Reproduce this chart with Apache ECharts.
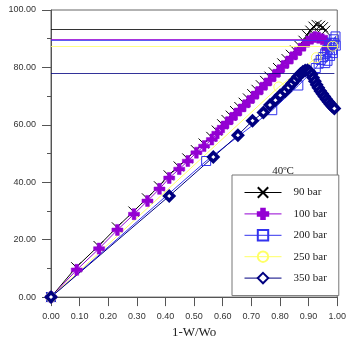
<!DOCTYPE html>
<html>
<head>
<meta charset="utf-8">
<script src="https://cdn.jsdelivr.net/npm/echarts@6/dist/echarts.min.js"></script>
<style>
  html, body { margin: 0; padding: 0; background: #fff; }
  #chart { width: 349px; height: 344px; }
</style>
</head>
<body>
<div id="chart"></div>
<script>
// series: [1-W/Wo, yield %]
const names = ['90 bar', '100 bar', '200 bar', '250 bar', '350 bar'];

const bar90 = [
  [0, 0], [0.088, 10.4], [0.166, 17.8], [0.230, 24.3], [0.288, 29.8], [0.335, 34.4],
  [0.377, 38.6], [0.411, 42.4], [0.446, 45.5], [0.476, 48.3], [0.506, 51.2], [0.533, 53.5],
  [0.560, 55.8], [0.579, 58.0], [0.598, 60.2], [0.613, 61.7], [0.628, 63.2], [0.643, 64.8],
  [0.658, 66.2], [0.673, 67.7], [0.688, 69.2], [0.703, 70.7], [0.718, 72.2], [0.733, 73.8],
  [0.748, 75.3], [0.763, 76.8], [0.778, 78.3], [0.793, 79.8], [0.808, 81.4], [0.823, 82.9],
  [0.838, 84.4], [0.853, 85.9], [0.868, 87.5], [0.882, 89.3], [0.895, 91.2], [0.906, 92.8],
  [0.917, 94.2], [0.928, 94.8], [0.940, 94.5], [0.950, 94.0], [0.958, 92.8]
];
const bar100 = [
  [0, 0], [0.090, 9.5], [0.168, 16.9], [0.232, 23.4], [0.290, 28.9], [0.337, 33.5],
  [0.379, 37.7], [0.413, 41.5], [0.448, 44.6], [0.478, 47.4], [0.508, 50.3], [0.535, 52.6],
  [0.562, 54.9], [0.581, 57.1], [0.600, 59.2], [0.615, 60.7], [0.630, 62.2], [0.645, 63.7],
  [0.660, 65.2], [0.675, 66.6], [0.690, 68.1], [0.705, 69.6], [0.720, 71.1], [0.735, 72.7],
  [0.750, 74.2], [0.765, 75.7], [0.780, 77.2], [0.795, 78.7], [0.810, 80.3], [0.825, 81.8],
  [0.840, 83.3], [0.855, 84.8], [0.870, 86.3], [0.884, 87.8], [0.897, 89.0], [0.910, 90.0],
  [0.922, 90.6], [0.935, 90.3], [0.948, 89.8], [0.960, 89.3], [0.965, 86.5]
];
const bar200 = [
  [0, 0], [0.542, 47.4], [0.773, 65.1], [0.864, 73.7], [0.925, 79.8], [0.935, 81.3],
  [0.942, 82.6], [0.950, 83.6], [0.958, 84.9], [0.965, 86.1], [0.972, 87.4], [0.980, 88.6],
  [0.988, 89.8], [0.994, 90.8], [0.990, 88.4], [0.982, 86.0], [0.975, 84.0], [0.966, 82.3],
  [0.958, 81.5], [0.985, 85.0], [0.995, 87.6]
];
const bar250 = [
  [0, 0], [0.796, 73.2], [0.927, 83.4], [0.984, 87.4]
];
const bar350 = [
  [0, 0], [0.413, 35.2], [0.567, 48.8], [0.653, 56.4], [0.704, 61.4], [0.742, 64.3],
  [0.765, 66.9], [0.784, 68.6], [0.801, 70.3], [0.818, 71.7], [0.830, 73.0], [0.842, 74.4],
  [0.853, 75.6], [0.863, 76.8], [0.872, 77.8], [0.880, 78.5], [0.888, 78.9], [0.896, 79.0],
  [0.903, 78.6], [0.910, 77.6], [0.916, 76.4], [0.922, 75.2], [0.928, 74.0], [0.934, 72.9],
  [0.941, 71.8], [0.948, 70.8], [0.955, 69.9], [0.962, 68.9], [0.969, 68.0], [0.976, 67.2],
  [0.983, 66.4], [0.990, 65.7]
];

// plateau lines drawn across from the y axis
const plateau = [93.4, 89.7, 89.3, 87.2, 77.8];
const plateauEnd = [0.96, 0.965, 1.0, 1.0, 0.99];

const colors = ['#000000', '#9400d3', '#3333ee', '#ffff66', '#000080'];
const symbols = [
  'path://M0,0L10,10M10,0L0,10',
  'path://M3.3,0H6.7V3.3H10V6.7H6.7V10H3.3V6.7H0V3.3H3.3Z',
  'rect',
  'circle',
  'diamond'
];
const sizes = [10, 11, 9, 10, 9];
const allData = [bar90, bar100, bar200, bar250, bar350];

const chart = echarts.init(document.getElementById('chart'));

const series = allData.map((d, i) => ({
  name: names[i],
  type: 'line',
  data: d,
  symbol: symbols[i],
  symbolSize: sizes[i],
  showAllSymbol: true,
  animation: false,
  lineStyle: { color: colors[i], width: 1 },
  itemStyle: i === 1
    ? { color: colors[i], borderColor: colors[i], borderWidth: 0.5 }
    : i === 4
      ? { color: '#ffffff', borderColor: colors[i], borderWidth: 3.5 }
      : { color: 'rgba(0,0,0,0)', borderColor: colors[i], borderWidth: 1 },
  emphasis: { disabled: true },
  markLine: {
    silent: true,
    symbol: 'none',
    label: { show: false },
    lineStyle: { color: colors[i], width: 1, type: 'solid', opacity: 0.8 },
    data: [[{ coord: [0, plateau[i]] }, { coord: [plateauEnd[i], plateau[i]] }]]
  }
}));

const option = {
  animation: false,
  grid: {
    left: 51, right: 5, top: 10, bottom: 42,
    show: true, borderColor: '#666', borderWidth: 1
  },
  xAxis: {
    type: 'value',
    min: 0, max: 1, interval: 0.1,
    name: '1-W/Wo',
    nameLocation: 'middle',
    nameGap: 25,
    nameTextStyle: { fontFamily: 'Liberation Serif', fontSize: 13, color: '#222' },
    axisLine: { show: true, lineStyle: { color: '#555' } },
    axisTick: { show: true, length: 9, lineStyle: { color: '#555' } },
    axisLabel: {
      margin: 15, fontSize: 9, fontFamily: 'Liberation Sans', color: '#333',
      formatter: v => v.toFixed(2)
    },
    splitLine: { show: false }
  },
  yAxis: {
    type: 'value',
    min: 0, max: 100, interval: 20,
    axisLine: { show: true, lineStyle: { color: '#555' } },
    axisTick: { show: true, length: 9, lineStyle: { color: '#555' } },
    minorTick: { show: true, splitNumber: 2, length: 4, lineStyle: { color: '#555' } },
    axisLabel: {
      margin: 15, fontSize: 9, fontFamily: 'Liberation Sans', color: '#333',
      formatter: v => v.toFixed(2)
    },
    splitLine: { show: false }
  },
  legend: {
    data: names,
    orient: 'vertical',
    left: 232, top: 175,
    padding: [11, 12, 11, 12],
    itemWidth: 37, itemHeight: 13, itemGap: 8.4,
    backgroundColor: '#fff',
    borderColor: '#777', borderWidth: 1,
    selectedMode: false,
    lineStyle: { width: 1 },
    textStyle: {
      fontFamily: 'Liberation Serif', fontSize: 11, color: '#222',
      lineHeight: 13, padding: [0, 0, 0, 7]
    }
  },
  graphic: [{
    type: 'text',
    x: 283, y: 171,
    z: 200,
    style: {
      text: '40ºC', fontFamily: 'Liberation Serif', fontSize: 11, fill: '#222',
      textAlign: 'center', textVerticalAlign: 'middle'
    }
  }],
  series: series
};

chart.setOption(option);
</script>
</body>
</html>
